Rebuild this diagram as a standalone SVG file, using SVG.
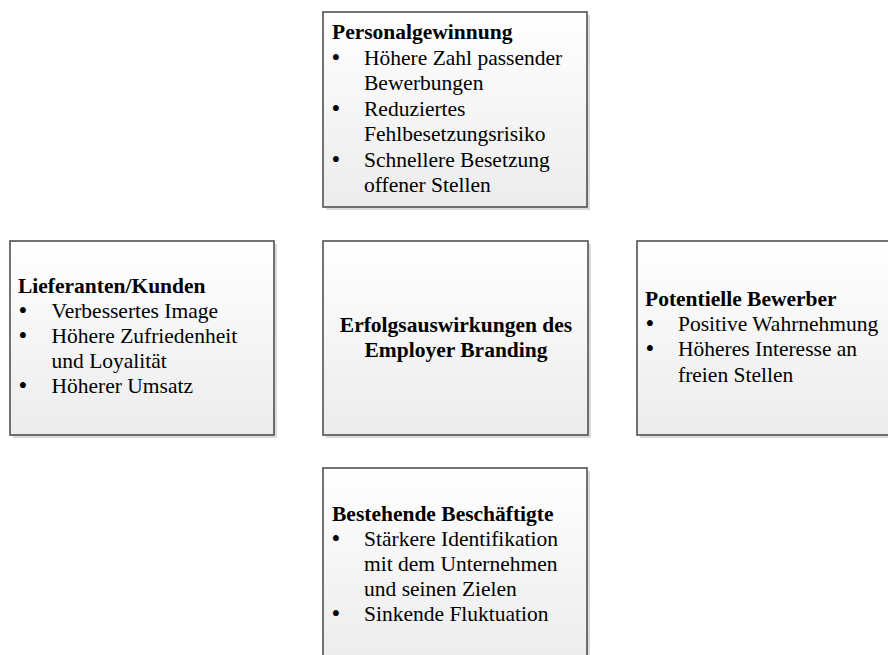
<svg xmlns="http://www.w3.org/2000/svg" width="888" height="655" viewBox="0 0 888 655">
  <defs>
    <linearGradient id="fillGrad" x1="0" y1="0" x2="0" y2="1">
      <stop offset="0" stop-color="#ffffff"/>
      <stop offset="1" stop-color="#ececec"/>
    </linearGradient>
  </defs>
  <style>
    .shadow { fill: #bdbdbd; opacity: 0.55; }
    .box { fill: url(#fillGrad); stroke: #505050; stroke-width: 1.6; }
    text { font-family: "Liberation Serif", "Times New Roman", serif; font-size: 21.5px; fill: #000; }
    .title { font-weight: bold; }
    .center { text-anchor: middle; }
    .bul { font-size: 25px; }
  </style>
  <rect width="888" height="655" fill="#ffffff"/>
  <g id="connectors"></g>

  <g id="node-personalgewinnung">
    <rect class="shadow" x="326" y="15" width="264" height="195"/>
    <rect class="box" x="323" y="12" width="264" height="195"/>
    <text class="title" x="332" y="39">Personalgewinnung</text>
    <text class="bul" x="331.5" y="65.5">•</text><text x="364" y="64.5">Höhere Zahl passender</text>
    <text x="364" y="90">Bewerbungen</text>
    <text class="bul" x="331.5" y="116.5">•</text><text x="364" y="115.5">Reduziertes</text>
    <text x="364" y="141">Fehlbesetzungsrisiko</text>
    <text class="bul" x="331.5" y="167.5">•</text><text x="364" y="166.5">Schnellere Besetzung</text>
    <text x="364" y="192">offener Stellen</text>
  </g>

  <g id="node-lieferanten">
    <rect class="shadow" x="13" y="244" width="264" height="194"/>
    <rect class="box" x="10" y="241" width="264" height="194"/>
    <text class="title" x="18" y="293">Lieferanten/Kunden</text>
    <text class="bul" x="18.5" y="319">•</text><text x="51.5" y="318">Verbessertes Image</text>
    <text class="bul" x="18.5" y="344">•</text><text x="51.5" y="343">Höhere Zufriedenheit</text>
    <text x="51.5" y="368">und Loyalität</text>
    <text class="bul" x="18.5" y="394">•</text><text x="51.5" y="393">Höherer Umsatz</text>
  </g>

  <g id="node-center">
    <rect class="shadow" x="326" y="244" width="265" height="194"/>
    <rect class="box" x="323" y="241" width="265" height="194"/>
    <text class="title center" x="456" y="332">Erfolgsauswirkungen des</text>
    <text class="title center" x="456" y="357">Employer Branding</text>
  </g>

  <g id="node-bewerber">
    <rect class="shadow" x="640" y="244" width="264" height="194"/>
    <rect class="box" x="637" y="241" width="264" height="194"/>
    <text class="title" x="645" y="306">Potentielle Bewerber</text>
    <text class="bul" x="645.5" y="332">•</text><text x="678" y="331">Positive Wahrnehmung</text>
    <text class="bul" x="645.5" y="357">•</text><text x="678" y="356">Höheres Interesse an</text>
    <text x="678" y="381.5">freien Stellen</text>
  </g>

  <g id="node-beschaeftigte">
    <rect class="shadow" x="326" y="471" width="264" height="195"/>
    <rect class="box" x="323" y="468" width="264" height="195"/>
    <text class="title" x="332" y="521">Bestehende Beschäftigte</text>
    <text class="bul" x="331.5" y="547">•</text><text x="364" y="546">Stärkere Identifikation</text>
    <text x="364" y="571">mit dem Unternehmen</text>
    <text x="364" y="596">und seinen Zielen</text>
    <text class="bul" x="331.5" y="622">•</text><text x="364" y="621">Sinkende Fluktuation</text>
  </g>
</svg>
